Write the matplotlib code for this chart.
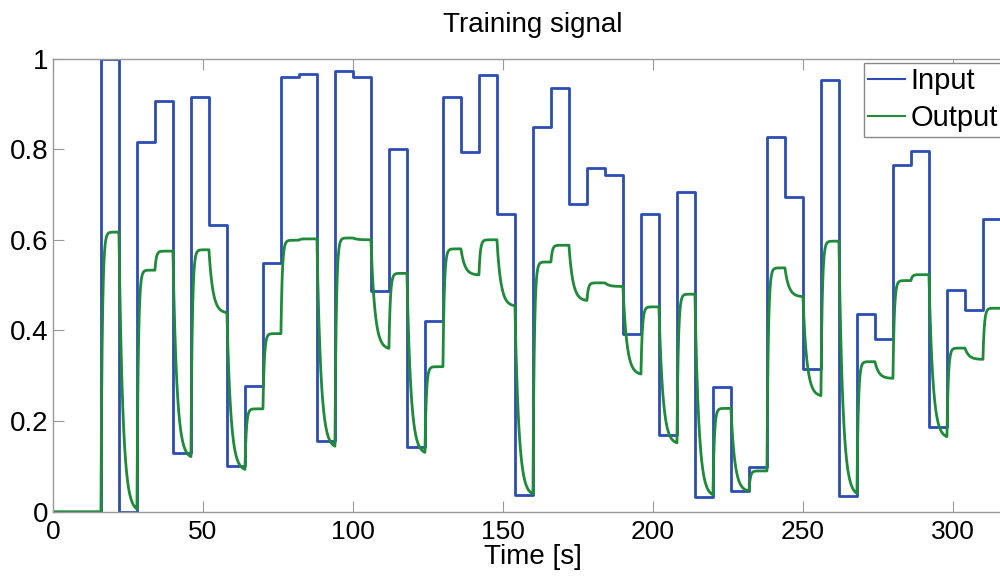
import numpy as np
import matplotlib
matplotlib.use("Agg")
import matplotlib.pyplot as plt

# switching times of the input (s), one level every 6 s after t=16
t_step = [0, 16, 22, 28, 34, 40, 46, 52, 58, 64, 70, 76, 82, 88, 94, 100,
          106, 112, 118, 124, 130, 136, 142, 148, 154, 160, 166, 172, 178,
          184, 190, 196, 202, 208, 214, 220, 226, 232, 238, 244, 250, 256,
          262, 268, 274, 280, 286, 292, 298, 304, 310]
t_end = 320

# input level held from each switching time
u_level = [0, 1.0, 0, 0.815, 0.906, 0.129, 0.915, 0.633, 0.100, 0.277,
           0.548, 0.960, 0.966, 0.157, 0.972, 0.960, 0.486, 0.801, 0.142,
           0.421, 0.916, 0.793, 0.963, 0.657, 0.036, 0.849, 0.935, 0.680,
           0.759, 0.743, 0.393, 0.656, 0.170, 0.705, 0.032, 0.276, 0.046,
           0.098, 0.826, 0.695, 0.316, 0.952, 0.035, 0.437, 0.382, 0.766,
           0.796, 0.187, 0.490, 0.446, 0.646]

# output level reached at the end of each segment
y_level = [0, 0.617, 0.0, 0.533, 0.575, 0.117, 0.578, 0.438, 0.090, 0.227,
           0.393, 0.599, 0.602, 0.140, 0.604, 0.600, 0.358, 0.526, 0.127,
           0.320, 0.580, 0.522, 0.600, 0.453, 0.035, 0.551, 0.588, 0.465,
           0.505, 0.497, 0.302, 0.452, 0.149, 0.480, 0.033, 0.228, 0.044,
           0.090, 0.538, 0.474, 0.254, 0.597, 0.035, 0.331, 0.294, 0.510,
           0.523, 0.162, 0.361, 0.336, 0.449]

# response times read from the rising / falling edges of the output (s)
tau_up = 0.45
tau_down = 1.3

# input as a staircase
tu = np.repeat(t_step + [t_end], 2)[1:-1]
u = np.repeat(u_level, 2)

# output: first order approach towards each read level
dt = 0.02
t = np.arange(0, t_end, dt)
idx = np.searchsorted(t_step, t, side='right') - 1
target = np.array(y_level)[idx]
y = np.zeros_like(t)
for k in range(1, len(t)):
    tau = tau_up if target[k] > y[k-1] else tau_down
    y[k] = y[k-1] + (target[k] - y[k-1])*(1 - np.exp(-dt/tau))

plt.rcParams['font.family'] = ['Liberation Sans', 'DejaVu Sans']

fig = plt.figure(figsize=(10, 5.76), dpi=100)
ax = fig.add_axes([0.053, 0.1116, 0.96, 0.7868])
ax.plot(tu, u, color='#2c4db3', lw=2, label='Input')
ax.plot(t, y, color='#1e8a3a', lw=2, label='Output')

ax.set_xlim(0, 320)
ax.set_ylim(0, 1)
ax.set_xticks([0, 50, 100, 150, 200, 250, 300])
ax.set_yticks([0, 0.2, 0.4, 0.6, 0.8, 1])
ax.set_yticklabels(['0', '0.2', '0.4', '0.6', '0.8', '1'])
ax.tick_params(direction='in', length=8, width=0.8, top=True, right=True,
               labelsize=20, color='#999999', pad=3)
ax.tick_params(axis='x', labelsize=19, pad=6)
for s in ax.spines.values():
    s.set_color('#999999')
    s.set_linewidth(1.0)
ax.set_xlabel('Time [s]', fontsize=20, labelpad=0)
ax.set_title('Training signal', fontsize=20, pad=19)

leg = ax.legend(loc='upper left', bbox_to_anchor=(0.864, 1 - 63/576),
                bbox_transform=fig.transFigure, borderaxespad=0,
                fontsize=21, fancybox=False, framealpha=1,
                edgecolor='#888888', handlelength=1.25, handletextpad=0.2,
                borderpad=0.15, labelspacing=0.3)
leg.get_frame().set_linewidth(1.0)
for line in leg.get_lines():
    line.set_linewidth(1.5)

plt.savefig('out.png', dpi=100)
